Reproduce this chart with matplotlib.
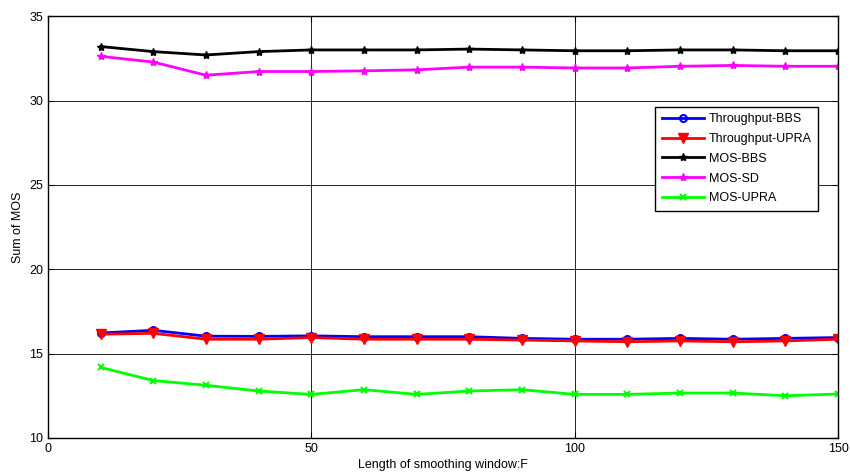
import matplotlib
matplotlib.use("Agg")
import matplotlib.pyplot as plt

plt.rcParams["font.family"] = ["Liberation Sans", "DejaVu Sans"]

F = [10, 20, 30, 40, 50, 60, 70, 80, 90, 100, 110, 120, 130, 140, 150]
thr_bbs  = [16.22, 16.38, 16.03, 16.02, 16.05, 16.00, 16.00, 16.00, 15.90, 15.85, 15.85, 15.90, 15.85, 15.90, 15.95]
thr_upra = [16.15, 16.20, 15.85, 15.85, 15.95, 15.85, 15.85, 15.85, 15.80, 15.75, 15.70, 15.75, 15.70, 15.75, 15.85]
mos_bbs  = [33.20, 32.90, 32.70, 32.90, 33.00, 33.00, 33.00, 33.05, 33.00, 32.95, 32.95, 33.00, 33.00, 32.95, 32.95]
mos_sd   = [32.62, 32.28, 31.50, 31.72, 31.72, 31.76, 31.82, 31.98, 31.98, 31.93, 31.93, 32.03, 32.08, 32.03, 32.03]
mos_upra = [14.18, 13.40, 13.12, 12.78, 12.58, 12.86, 12.58, 12.78, 12.86, 12.58, 12.58, 12.66, 12.66, 12.50, 12.60]

fig = plt.figure(figsize=(8.5, 4.76), dpi=100)
ax = fig.add_axes([0.0565, 0.080, 0.9295, 0.886])

lw = 2.0
ax.plot(F, thr_bbs, color="blue", lw=lw, marker="o", ms=5, mfc="none", mew=1.5, label="Throughput-BBS")
ax.plot(F, thr_upra, color="red", lw=lw, marker="v", ms=7, label="Throughput-UPRA")
ax.plot(F, mos_bbs, color="black", lw=lw, marker="*", ms=6, label="MOS-BBS")
ax.plot(F, mos_sd, color="magenta", lw=lw, marker="*", ms=6, label="MOS-SD")
ax.plot(F, mos_upra, color="lime", lw=lw, marker="x", ms=5, mew=1.5, label="MOS-UPRA")

ax.set_xlim(0, 150)
ax.set_ylim(10, 35)
ax.set_xticks([0, 50, 100, 150])
ax.set_yticks([10, 15, 20, 25, 30, 35])
ax.tick_params(direction="in", labelsize=9, length=4, top=True, right=True)
ax.grid(True, color="black", lw=0.6)
for s in ax.spines.values():
    s.set_linewidth(1.0)

ax.set_xlabel("Length of smoothing window:F", fontsize=9, labelpad=3)
ax.set_ylabel("Sum of MOS", fontsize=9, labelpad=4)

leg = ax.legend(loc="upper left", bbox_to_anchor=(0.771, 0.775), bbox_transform=fig.transFigure,
                borderaxespad=0, fontsize=9, fancybox=False, framealpha=1, edgecolor="black",
                handlelength=3.4, handletextpad=0.4, labelspacing=0.62, borderpad=0.5)
leg.get_frame().set_linewidth(1.0)

fig.savefig("out.png", dpi=100)
